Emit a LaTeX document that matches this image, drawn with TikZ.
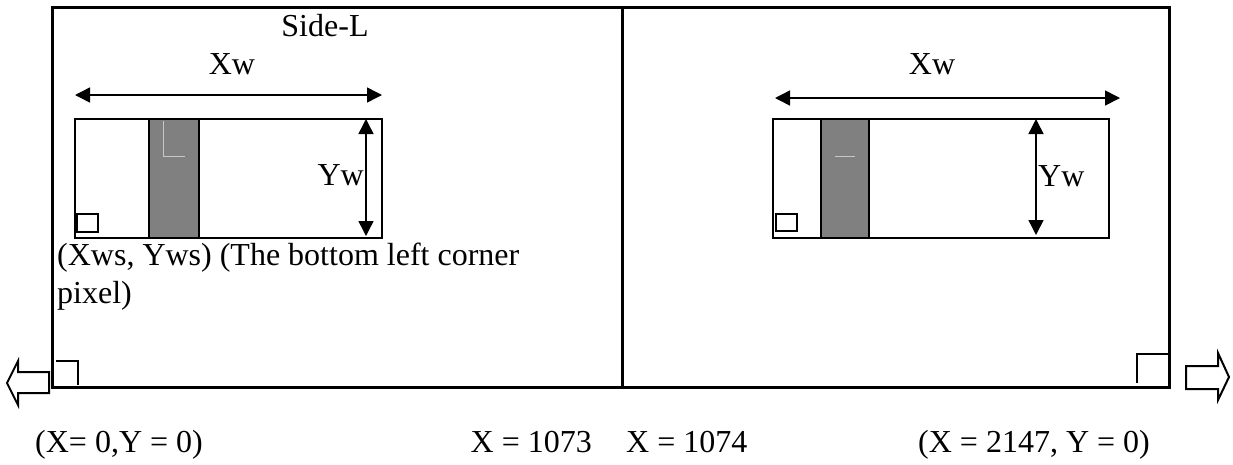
\documentclass[tikz,border=0pt]{standalone}
\usepackage{fontspec}
\setmainfont{Liberation Serif}
\usetikzlibrary{arrows.meta}
\begin{document}
\begin{tikzpicture}[x=1pt,y=-1pt,
  lbl/.style={inner sep=0pt,font=\fontsize{32}{37}\selectfont},
  frameline/.style={line width=3pt},
  winbox/.style={draw,line width=2.5pt},
  dimarrow/.style={line width=1.5pt,{Triangle[length=15pt,width=15pt]}-{Triangle[length=15pt,width=15pt]}},
  band/.style={fill=black!50,draw=none},
  bandedge/.style={line width=2pt},
  faint/.style={draw=black!22,line width=1pt},
  pixbox/.style={draw,line width=1.8pt},
  corner/.style={line width=2pt},
  blockarrow/.style={draw,line width=2pt,line join=miter}]
\useasboundingbox (0,0) rectangle (1233,464);
% outer frame and divider
\coordinate (FTL) at (52,7);
\coordinate (FBR) at (1169,387);
\coordinate (DT) at (622,7);
\coordinate (DB) at (622,387);
\draw[frameline] (FTL) rectangle (FBR);
\draw[frameline] (DT) -- (DB);
% ---------- left panel ----------
\node[lbl,anchor=base] (sidel) at (325,36) {Side-L};
\node[lbl,anchor=base] (xwl) at (232,74) {Xw};
\coordinate (xal) at (75,95);
\coordinate (xbl) at (382,95);
\draw[dimarrow] (xal) -- (xbl);
\fill[band] (149,119) rectangle (199,238);
\draw[faint] (163,121) -- (163,156) -- (185,156);
\draw[bandedge] (149,119) -- (149,238);
\draw[bandedge] (199,119) -- (199,238);
\draw[winbox] (75,119) rectangle (382,238);
\draw[pixbox] (77,214) rectangle (98,232);
\coordinate (yal) at (366,119);
\coordinate (ybl) at (366,236);
\draw[dimarrow] (yal) -- (ybl);
\node[lbl,anchor=base east] (ywl) at (364,185) {Yw};
\node[lbl,anchor=base west] (xws) at (57,265) {(Xws, Yws) (The bottom left corner};
\node[lbl,anchor=base west] (pix) at (57,303) {pixel)};
% ---------- right panel ----------
\node[lbl,anchor=base] (xwr) at (932,74) {Xw};
\coordinate (xar) at (775,98);
\coordinate (xbr) at (1120,98);
\draw[dimarrow] (xar) -- (xbr);
\fill[band] (821,119) rectangle (869,238);
\draw[faint] (835,156) -- (855,156);
\draw[bandedge] (821,119) -- (821,238);
\draw[bandedge] (869,119) -- (869,238);
\draw[winbox] (773,119) rectangle (1109,238);
\draw[pixbox] (776,214) rectangle (797,231);
\coordinate (yar) at (1036,119);
\coordinate (ybr) at (1036,235);
\draw[dimarrow] (yar) -- (ybr);
\node[lbl,anchor=base west] (ywr) at (1038,186) {Yw};
% ---------- corner marks ----------
\draw[corner] (56,361) -- (78,361) -- (78,385);
\draw[corner] (1137,383) -- (1137,354) -- (1169,354);
% ---------- block arrows ----------
\draw[blockarrow] (7,383) -- (18,361) -- (18,372) -- (49,372) -- (49,393) -- (18,393) -- (18,405) -- cycle;
\draw[blockarrow] (1186,366) -- (1218,366) -- (1218,353) -- (1229,377) -- (1218,400) -- (1218,389) -- (1186,389) -- cycle;
% ---------- bottom labels ----------
\node[lbl,anchor=base west] (origin) at (35,452) {(X= 0,Y = 0)};
\node[lbl,anchor=base east] (x1073) at (592,452) {X = 1073};
\node[lbl,anchor=base west] (x1074) at (626,452) {X = 1074};
\node[lbl,anchor=base west] (x2147) at (918,452) {(X = 2147, Y = 0)};
\end{tikzpicture}
\end{document}
